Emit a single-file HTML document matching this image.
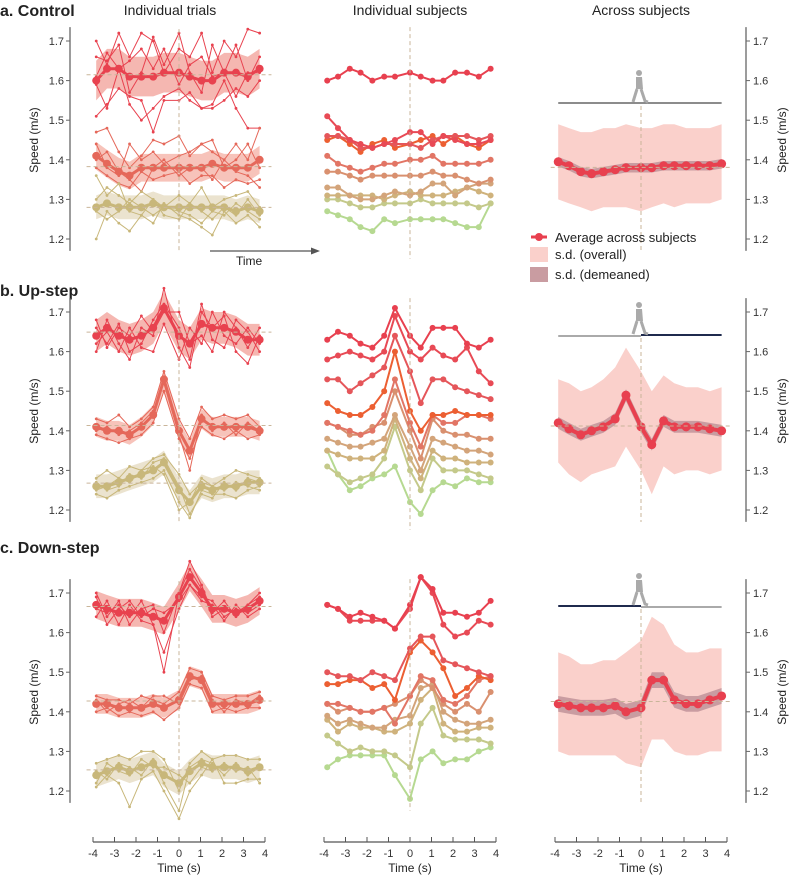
<!DOCTYPE html>
<html><head><meta charset="utf-8"><style>
body{margin:0;background:#fff;}
svg{display:block;font-family:"Liberation Sans",sans-serif;}
</style></head><body>
<svg id="fig" width="798" height="877" viewBox="0 0 798 877"></svg>
<script>
// ---------- DATA ----------
const times = [-3.85,-3.35,-2.8,-2.3,-1.75,-1.2,-0.7,0,0.5,1.05,1.55,2.1,2.65,3.2,3.75];
const xTickLabels = ["-4","-3","-2","-1","0","1","2","3","4"];
const yTickLabels = ["1.2","1.3","1.4","1.5","1.6","1.7"];
const panelNames = ["control","up-step","down-step"];

// Individual trials: panel a
const aG1Mean=[1.60,1.63,1.63,1.61,1.61,1.61,1.62,1.62,1.61,1.60,1.60,1.62,1.62,1.61,1.63];
const aG1Trials=[[1.70,1.64,1.72,1.66,1.72,1.70,1.62,1.68,1.66,1.72,1.62,1.70,1.66,1.73,1.72],
[1.66,1.65,1.69,1.57,1.62,1.71,1.64,1.72,1.62,1.57,1.69,1.62,1.69,1.60,1.66],
[1.59,1.53,1.63,1.54,1.50,1.53,1.56,1.58,1.55,1.53,1.53,1.55,1.58,1.56,1.60],
[1.51,1.54,1.58,1.56,1.55,1.47,1.55,1.55,1.57,1.53,1.54,1.60,1.53,1.48,1.48],
[1.61,1.67,1.63,1.65,1.68,1.63,1.68,1.59,1.64,1.66,1.61,1.62,1.56,1.62,1.62]];
const aG2Mean=[1.41,1.39,1.37,1.36,1.38,1.38,1.38,1.38,1.38,1.38,1.39,1.38,1.38,1.38,1.40];
const aG2Trials=[[1.47,1.48,1.42,1.38,1.41,1.45,1.44,1.46,1.41,1.44,1.42,1.40,1.44,1.40,1.48],
[1.44,1.38,1.36,1.44,1.40,1.42,1.39,1.41,1.42,1.44,1.45,1.38,1.40,1.44,1.38],
[1.38,1.36,1.34,1.33,1.37,1.35,1.36,1.37,1.34,1.36,1.36,1.33,1.35,1.34,1.35],
[1.40,1.42,1.37,1.35,1.32,1.38,1.40,1.36,1.38,1.38,1.35,1.40,1.37,1.36,1.33]];
const aG3Mean=[1.28,1.29,1.28,1.28,1.28,1.29,1.28,1.28,1.28,1.28,1.28,1.28,1.27,1.28,1.27];
const aG3Trials=[[1.20,1.27,1.24,1.22,1.26,1.24,1.29,1.26,1.25,1.23,1.21,1.27,1.24,1.26,1.23],
[1.30,1.33,1.31,1.29,1.32,1.30,1.28,1.31,1.29,1.33,1.28,1.30,1.31,1.32,1.28],
[1.36,1.31,1.34,1.27,1.26,1.30,1.26,1.25,1.29,1.27,1.25,1.28,1.26,1.30,1.26],
[1.27,1.25,1.27,1.30,1.28,1.26,1.28,1.27,1.26,1.24,1.27,1.26,1.29,1.27,1.25]];
// panel b
const bG1Mean=[1.64,1.66,1.64,1.63,1.64,1.66,1.71,1.64,1.62,1.67,1.66,1.66,1.65,1.63,1.63];
const bG1Trials=[[1.60,1.68,1.62,1.58,1.66,1.64,1.76,1.61,1.56,1.70,1.66,1.69,1.60,1.57,1.64],
[1.66,1.62,1.67,1.60,1.62,1.68,1.72,1.66,1.58,1.72,1.63,1.61,1.68,1.65,1.60],
[1.62,1.65,1.60,1.66,1.61,1.60,1.67,1.58,1.66,1.62,1.70,1.64,1.62,1.66,1.62],
[1.68,1.61,1.66,1.64,1.69,1.65,1.70,1.70,1.62,1.64,1.60,1.70,1.66,1.61,1.66]];
const bG2Mean=[1.41,1.40,1.40,1.39,1.41,1.44,1.53,1.40,1.35,1.43,1.41,1.41,1.41,1.41,1.40];
const bG2Trials=[[1.43,1.42,1.44,1.41,1.43,1.46,1.55,1.43,1.38,1.46,1.43,1.44,1.43,1.44,1.41],
[1.39,1.38,1.37,1.38,1.39,1.42,1.50,1.38,1.33,1.41,1.39,1.38,1.40,1.38,1.39],
[1.40,1.41,1.39,1.40,1.42,1.45,1.52,1.39,1.30,1.44,1.40,1.42,1.39,1.42,1.40]];
const bG3Mean=[1.26,1.26,1.27,1.28,1.29,1.30,1.32,1.25,1.22,1.26,1.25,1.26,1.26,1.27,1.27];
const bG3Trials=[[1.28,1.30,1.28,1.31,1.30,1.33,1.34,1.29,1.24,1.27,1.26,1.28,1.30,1.29,1.28],
[1.24,1.23,1.25,1.26,1.27,1.28,1.30,1.22,1.18,1.25,1.24,1.24,1.23,1.25,1.26],
[1.25,1.26,1.28,1.27,1.30,1.31,1.29,1.20,1.22,1.28,1.26,1.25,1.27,1.26,1.25],
[1.27,1.25,1.26,1.29,1.28,1.32,1.33,1.26,1.19,1.24,1.23,1.27,1.25,1.28,1.27]];
// panel c
const cG1Mean=[1.67,1.66,1.65,1.65,1.65,1.64,1.63,1.69,1.74,1.70,1.66,1.66,1.65,1.66,1.68];
const cG1Trials=[[1.70,1.64,1.68,1.62,1.66,1.67,1.60,1.70,1.78,1.72,1.65,1.68,1.64,1.67,1.70],
[1.64,1.68,1.62,1.67,1.63,1.62,1.55,1.66,1.72,1.68,1.67,1.63,1.67,1.64,1.66],
[1.66,1.65,1.67,1.64,1.68,1.62,1.50,1.70,1.76,1.71,1.64,1.66,1.65,1.67,1.69],
[1.69,1.62,1.66,1.68,1.64,1.66,1.65,1.68,1.72,1.69,1.68,1.64,1.66,1.65,1.67]];
const cG2Mean=[1.42,1.42,1.41,1.41,1.41,1.42,1.41,1.43,1.49,1.48,1.42,1.42,1.42,1.42,1.43];
const cG2Trials=[[1.44,1.43,1.43,1.42,1.44,1.43,1.42,1.45,1.51,1.50,1.44,1.43,1.44,1.44,1.45],
[1.40,1.41,1.39,1.40,1.39,1.40,1.38,1.41,1.47,1.46,1.40,1.41,1.40,1.41,1.41],
[1.43,1.40,1.42,1.43,1.41,1.44,1.44,1.42,1.48,1.49,1.43,1.40,1.43,1.42,1.44]];
const cG3Mean=[1.24,1.25,1.26,1.25,1.26,1.27,1.24,1.22,1.25,1.27,1.26,1.26,1.26,1.25,1.26];
const cG3Trials=[[1.21,1.24,1.22,1.16,1.23,1.25,1.20,1.13,1.20,1.24,1.28,1.22,1.22,1.23,1.23],
[1.27,1.28,1.29,1.28,1.30,1.30,1.28,1.20,1.27,1.30,1.28,1.29,1.29,1.28,1.28],
[1.25,1.23,1.27,1.26,1.24,1.28,1.22,1.15,1.26,1.28,1.27,1.24,1.27,1.24,1.26],
[1.22,1.27,1.25,1.24,1.28,1.26,1.26,1.24,1.22,1.26,1.25,1.27,1.25,1.26,1.22]];
const groupSd=[[0.05,0.035,0.03],[0.04,0.025,0.03],[0.035,0.025,0.03]];

// Individual subjects
const subjA=[[1.60,1.61,1.63,1.62,1.60,1.61,1.61,1.62,1.61,1.60,1.60,1.62,1.62,1.61,1.63],
[1.51,1.48,1.45,1.44,1.43,1.44,1.45,1.47,1.47,1.44,1.46,1.45,1.44,1.44,1.45],
[1.46,1.46,1.45,1.43,1.43,1.44,1.44,1.44,1.43,1.45,1.46,1.46,1.46,1.45,1.46],
[1.45,1.46,1.44,1.42,1.44,1.45,1.43,1.44,1.45,1.46,1.44,1.46,1.44,1.43,1.45],
[1.41,1.39,1.38,1.37,1.38,1.39,1.39,1.40,1.40,1.41,1.39,1.39,1.39,1.39,1.40],
[1.37,1.37,1.36,1.35,1.36,1.36,1.36,1.36,1.36,1.37,1.36,1.36,1.35,1.34,1.35],
[1.33,1.33,1.31,1.30,1.30,1.31,1.32,1.31,1.32,1.34,1.34,1.31,1.33,1.34,1.34],
[1.31,1.31,1.31,1.31,1.31,1.30,1.31,1.32,1.31,1.31,1.31,1.32,1.33,1.32,1.31],
[1.30,1.30,1.29,1.28,1.28,1.29,1.29,1.29,1.30,1.29,1.29,1.29,1.29,1.28,1.29],
[1.27,1.26,1.25,1.23,1.22,1.25,1.24,1.25,1.25,1.25,1.25,1.24,1.23,1.23,1.29]];
const subjB=[[1.63,1.65,1.64,1.62,1.61,1.64,1.71,1.64,1.61,1.66,1.66,1.66,1.62,1.61,1.63],
[1.58,1.59,1.60,1.59,1.58,1.60,1.69,1.60,1.58,1.61,1.59,1.58,1.61,1.55,1.52],
[1.53,1.53,1.50,1.52,1.54,1.56,1.64,1.55,1.47,1.53,1.53,1.51,1.50,1.49,1.48],
[1.47,1.45,1.44,1.44,1.46,1.50,1.60,1.45,1.40,1.44,1.44,1.45,1.44,1.44,1.44],
[1.42,1.41,1.40,1.39,1.40,1.44,1.53,1.42,1.36,1.44,1.42,1.42,1.44,1.44,1.43],
[1.42,1.41,1.39,1.39,1.41,1.42,1.50,1.40,1.33,1.43,1.40,1.39,1.39,1.38,1.38],
[1.38,1.37,1.36,1.36,1.37,1.38,1.44,1.36,1.30,1.38,1.37,1.36,1.35,1.35,1.34],
[1.35,1.34,1.33,1.33,1.33,1.35,1.43,1.33,1.28,1.35,1.33,1.33,1.32,1.32,1.32],
[1.31,1.29,1.27,1.28,1.29,1.33,1.41,1.30,1.25,1.33,1.30,1.30,1.30,1.29,1.28],
[1.35,1.29,1.25,1.26,1.28,1.29,1.31,1.22,1.19,1.25,1.27,1.26,1.28,1.27,1.27]];
const subjC=[[1.67,1.66,1.64,1.65,1.64,1.63,1.61,1.67,1.74,1.71,1.65,1.65,1.64,1.65,1.68],
[1.67,1.66,1.63,1.63,1.63,1.63,1.61,1.66,1.74,1.70,1.62,1.59,1.60,1.63,1.62],
[1.50,1.49,1.49,1.48,1.50,1.49,1.48,1.56,1.59,1.59,1.53,1.52,1.51,1.50,1.49],
[1.47,1.47,1.48,1.48,1.46,1.47,1.43,1.55,1.58,1.55,1.51,1.44,1.46,1.49,1.48],
[1.42,1.42,1.41,1.40,1.40,1.41,1.37,1.44,1.49,1.48,1.43,1.42,1.44,1.48,1.49],
[1.42,1.40,1.41,1.40,1.40,1.41,1.42,1.44,1.48,1.46,1.42,1.40,1.42,1.40,1.45],
[1.39,1.37,1.38,1.37,1.36,1.36,1.38,1.39,1.46,1.47,1.40,1.38,1.37,1.37,1.38],
[1.38,1.35,1.37,1.36,1.36,1.35,1.35,1.37,1.43,1.46,1.37,1.35,1.35,1.36,1.36],
[1.34,1.32,1.30,1.31,1.30,1.30,1.29,1.26,1.37,1.41,1.34,1.33,1.33,1.33,1.32],
[1.26,1.28,1.29,1.29,1.29,1.29,1.24,1.18,1.28,1.30,1.27,1.28,1.28,1.30,1.31]];

// Across subjects
const avgA=[1.395,1.385,1.37,1.365,1.37,1.375,1.38,1.38,1.38,1.385,1.385,1.385,1.385,1.385,1.39];
const upA=[1.49,1.48,1.47,1.47,1.48,1.48,1.49,1.48,1.48,1.49,1.49,1.48,1.48,1.48,1.49];
const loA=[1.30,1.29,1.28,1.27,1.28,1.28,1.28,1.27,1.28,1.29,1.28,1.29,1.29,1.29,1.30];
const avgB=[1.42,1.405,1.39,1.40,1.41,1.43,1.49,1.41,1.365,1.425,1.41,1.41,1.41,1.405,1.40];
const upB=[1.53,1.52,1.50,1.51,1.53,1.56,1.61,1.55,1.50,1.54,1.52,1.51,1.51,1.50,1.51];
const loB=[1.32,1.29,1.27,1.29,1.30,1.31,1.36,1.30,1.24,1.31,1.29,1.30,1.30,1.29,1.30];
const avgC=[1.42,1.415,1.41,1.41,1.41,1.415,1.40,1.41,1.48,1.48,1.43,1.42,1.42,1.43,1.44];
const upC=[1.55,1.54,1.52,1.52,1.53,1.53,1.55,1.58,1.64,1.62,1.57,1.55,1.55,1.56,1.56];
const loC=[1.30,1.29,1.29,1.29,1.29,1.29,1.27,1.26,1.33,1.33,1.30,1.29,1.29,1.30,1.30];
const demeanedSd=[0.012,0.015,0.02];

// ---------- STYLE / GEOMETRY ----------
const NS="http://www.w3.org/2000/svg";
const svg=document.getElementById('fig');
const base=[239,510,791];
const colX0=[93,324,555];
const PXS=21.5, PXV=396;
const groupColors=["#e8424f","#e5685a","#c8b77a"];
const bandColors=["#f5b7b1","#f7c3ba","#ebe3cf"];
const subjColors=["#e8404f","#e84a55","#e5565a","#ec5f32","#e27565","#d9906f","#d3a47a","#cfb27c","#c4c98a","#b6d991"];

function X(col,t){return colX0[col]+(t+4)*PXS;}
function Y(p,v){return base[p]-(v-1.2)*PXV;}
function mk(tag,attrs,parent){const e=document.createElementNS(NS,tag);for(const k in attrs)e.setAttribute(k,attrs[k]);(parent||svg).appendChild(e);return e;}
function pathD(col,p,vals){return vals.map((v,i)=>(i?'L':'M')+X(col,times[i]).toFixed(1)+','+Y(p,v).toFixed(1)).join('');}
function drawLine(col,p,vals,color,w,r,name,g){
  const gg=mk('g',{},g);
  
  
  mk('path',{d:pathD(col,p,vals),fill:'none',stroke:color,'stroke-width':w,'stroke-linejoin':'round'},gg);
  vals.forEach((v,i)=>{mk('circle',{cx:X(col,times[i]),cy:Y(p,v),r:r,fill:color},gg);});
}
function drawBand(col,p,up,lo,color,name,g){
  let d=up.map((v,i)=>(i?'L':'M')+X(col,times[i]).toFixed(1)+','+Y(p,v).toFixed(1)).join('');
  for(let i=lo.length-1;i>=0;i--)d+='L'+X(col,times[i]).toFixed(1)+','+Y(p,lo[i]).toFixed(1);
  const e=mk('path',{d:d+'Z',fill:color,stroke:'none'},g);
  
  
}
function txt(x,y,s,size,anchor,extra,parent){const e=mk('text',Object.assign({x:x,y:y,'font-size':size,'text-anchor':anchor||'start',fill:'#222'},extra||{}),parent);e.textContent=s;return e;}
function yAxis(p,x,side){
  const g=mk('g',{});
  
  
  mk('line',{x1:x,x2:x,y1:Y(p,1.17),y2:Y(p,1.735),stroke:'#666','stroke-width':1.3},g);
  yTickLabels.forEach(s=>{const v=parseFloat(s);const y=Y(p,v);
    const dx=side==='left'?-4:4;
    mk('line',{x1:x,x2:x+dx,y1:y,y2:y,stroke:'#666'},g);
    txt(side==='left'?x-6:x+7,y+4,s,11,side==='left'?'end':'start',{fill:'#333'},g);
  });
  const lx=side==='left'?38:786, ly=(Y(p,1.2)+Y(p,1.7))/2;
  const t=txt(lx,ly,'Speed  (m/s)',12,'middle',{transform:'rotate(-90 '+lx+' '+ly+')'});
  
  
}
function xAxis(col){
  const g=mk('g',{});
  
  
  const y=842;
  mk('line',{x1:X(col,-4),x2:X(col,4),y1:y,y2:y,stroke:'#555','stroke-width':1.2},g);
  xTickLabels.forEach(s=>{const t=parseFloat(s);const x=X(col,t);
    mk('line',{x1:x,x2:x,y1:y,y2:y-5,stroke:'#555'},g);
    txt(x,y+15,s,11,'middle',{fill:'#333'},g);
  });
  txt(X(col,0),y+30,'Time (s)',12,'middle',{},g);
}
function dashV(x,y1,y2,name){const e=mk('line',{x1:x,x2:x,y1:y1,y2:y2,stroke:'#c9b59a','stroke-width':1,'stroke-dasharray':'4,3'});
  
  }
function dashH(x1,x2,y,name){const e=mk('line',{x1:x1,x2:x2,y1:y,y2:y,stroke:'#c9b59a','stroke-width':1,'stroke-dasharray':'4,3'});
  
  }

// ---------- TITLES ----------
const titles=[["a. Control",16],["b. Up-step",296],["c. Down-step",553]];
titles.forEach((t,i)=>{const e=txt(0,t[1],t[0],16,'start',{'font-weight':'bold'});
  
  });
[["Individual trials",170],["Individual subjects",410],["Across subjects",641]].forEach(c=>{
  const e=txt(c[1],15,c[0],14,'middle');
  
  });

// ---------- LEFT COLUMN ----------
const leftMeans=[[aG1Mean,aG2Mean,aG3Mean],[bG1Mean,bG2Mean,bG3Mean],[cG1Mean,cG2Mean,cG3Mean]];
const leftTrials=[[aG1Trials,aG2Trials,aG3Trials],[bG1Trials,bG2Trials,bG3Trials],[cG1Trials,cG2Trials,cG3Trials]];
for(let p=0;p<3;p++){
  yAxis(p,70,'left');
  const g=mk('g',{});
  
  
  dashV(X(0,0),Y(p,1.73),Y(p,1.17),panelNames[p]+'-trials-zero-line');
  for(let k=0;k<3;k++){
    const m=leftMeans[p][k], sd=groupSd[p][k];
    drawBand(0,p,m.map(v=>v+sd),m.map(v=>v-sd),bandColors[k],panelNames[p]+'-group'+(k+1)+'-sd-band',g);
    const mv=m.reduce((a,b)=>a+b,0)/m.length;
    dashH(X(0,-4.3),X(0,4.3),Y(p,mv),panelNames[p]+'-group'+(k+1)+'-mean-line');
    leftTrials[p][k].forEach((tr,j)=>drawLine(0,p,tr,groupColors[k],1,1.4,panelNames[p]+'-group'+(k+1)+'-trial-'+(j+1),g));
    drawLine(0,p,m,groupColors[k],3,4,panelNames[p]+'-group'+(k+1)+'-mean',g);
  }
}
{const g=mk('g',{});
 
 
 mk('line',{x1:210,x2:313,y1:251,y2:251,stroke:'#555','stroke-width':1.3},g);
 mk('path',{d:'M320,251L311,247.5L311,254.5Z',fill:'#555'},g);
 txt(236,265,'Time',12,'start',{},g);}

// ---------- MIDDLE COLUMN ----------
const subjData=[subjA,subjB,subjC];
for(let p=0;p<3;p++){
  const g=mk('g',{});
  
  
  dashV(X(1,0),Y(p,1.735),Y(p,1.15),panelNames[p]+'-subjects-zero-line');
  for(let s=subjData[p].length-1;s>=0;s--){
    drawLine(1,p,subjData[p][s],subjColors[s],2,3,panelNames[p]+'-subject-'+(s+1),g);
  }
}

// ---------- RIGHT COLUMN ----------
const avgs=[avgA,avgB,avgC], ups=[upA,upB,upC], los=[loA,loB,loC];
const groundY=[103,335,606];
for(let p=0;p<3;p++){
  yAxis(p,746,'right');
  const g=mk('g',{});
  
  
  drawBand(2,p,ups[p],los[p],'#fad0cb',panelNames[p]+'-sd-overall',g);
  const a=avgs[p], dm=demeanedSd[p];
  drawBand(2,p,a.map(v=>v+dm),a.map(v=>v-dm),'#c99ca1',panelNames[p]+'-sd-demeaned',g);
  const mv=a.reduce((x,y)=>x+y,0)/a.length;
  dashH(X(2,-4.2),X(2,4.2),Y(p,mv),panelNames[p]+'-avg-level-line');
  dashV(X(2,0),groundY[p]+3,Y(p,1.2)+12,panelNames[p]+'-across-zero-line');
  drawLine(2,p,a,'#e8404f',4,4.5,panelNames[p]+'-average-across-subjects',g);
  const gy=groundY[p], x0=X(2,0);
  const gg=mk('g',{});
  
  
  if(p===0){mk('line',{x1:X(2,-3.85),x2:X(2,3.75),y1:gy,y2:gy,stroke:'#666','stroke-width':1.5},gg);}
  if(p===1){mk('line',{x1:X(2,-3.85),x2:x0,y1:gy+1,y2:gy+1,stroke:'#777','stroke-width':1.3},gg);
            mk('line',{x1:x0,x2:X(2,3.75),y1:gy,y2:gy,stroke:'#1f2a4d','stroke-width':2},gg);}
  if(p===2){mk('line',{x1:X(2,-3.85),x2:x0,y1:gy,y2:gy,stroke:'#1f2a4d','stroke-width':2},gg);
            mk('line',{x1:x0,x2:X(2,3.75),y1:gy+1,y2:gy+1,stroke:'#777','stroke-width':1.3},gg);}
  const fy=gy-33;
  mk('circle',{cx:x0-2,cy:fy+3,r:3,fill:'#aaa'},gg);
  mk('path',{d:`M${x0-5},${fy+7}L${x0+1},${fy+7}L${x0+2},${fy+19}L${x0-5},${fy+19}Z`,fill:'#aaa'},gg);
  mk('path',{d:`M${x0-4},${fy+19}L${x0-8},${fy+32}M${x0},${fy+19}L${x0+4},${fy+31}L${x0+7},${fy+32}`,stroke:'#aaa','stroke-width':3,fill:'none'},gg);
}
{const g=mk('g',{});
 
 
 const e1=mk('g',{},g);
 
 
 mk('line',{x1:531,x2:547,y1:237,y2:237,stroke:'#e8404f','stroke-width':3},e1);
 mk('circle',{cx:539,cy:237,r:4,fill:'#e8404f'},e1);
 txt(555,242,'Average across subjects',13,'start',{},e1);
 const e2=mk('g',{},g);
 
 
 mk('rect',{x:530,y:247,width:18,height:15,fill:'#fad0cb'},e2);
 txt(555,259,'s.d. (overall)',13,'start',{},e2);
 const e3=mk('g',{},g);
 
 
 mk('rect',{x:530,y:267,width:18,height:15,fill:'#c99ca1'},e3);
 txt(555,279,'s.d. (demeaned)',13,'start',{},e3);}

for(let c=0;c<3;c++)xAxis(c);
</script>
</body></html>
